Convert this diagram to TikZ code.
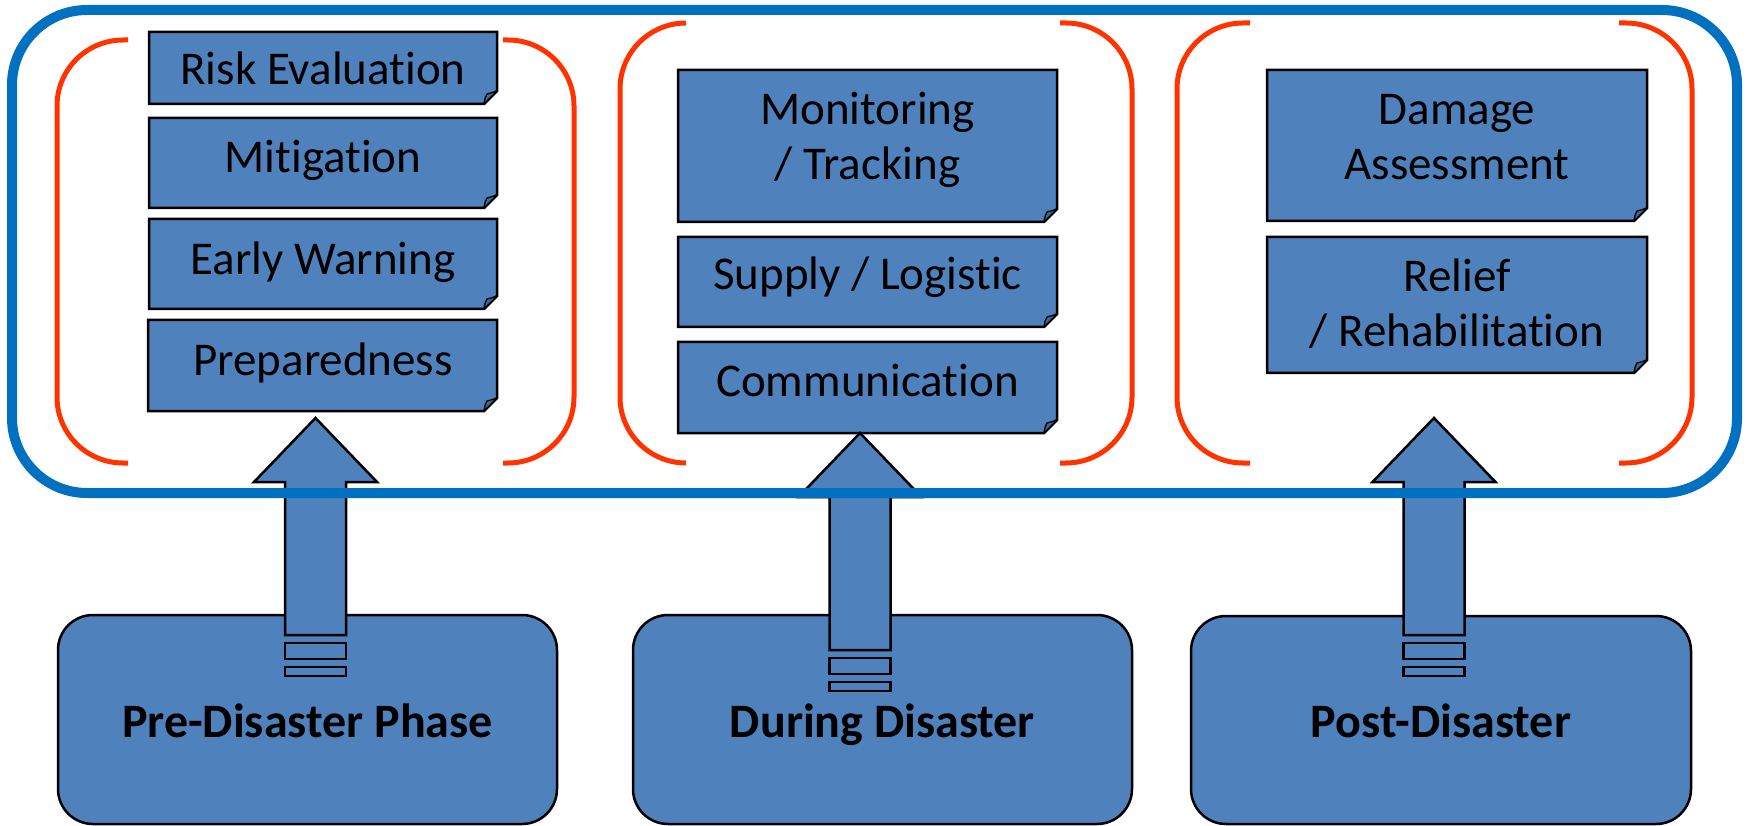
\documentclass[tikz,border=0pt]{standalone}
\usepackage{fontspec}
\setmainfont{Carlito}[Ligatures={NoCommon,NoRequired,NoContextual},RawFeature={-liga;-clig;-dlig;-calt}]
\usetikzlibrary{calc}
\definecolor{fillblue}{HTML}{4F81BD}
\definecolor{frameblue}{HTML}{0070C0}
\definecolor{bracketred}{HTML}{FF3300}
\definecolor{flapblue}{HTML}{3D6798}
\newcommand\nolig{\kern0pt }
\tikzset{
  notebox/.style={fill=fillblue, draw=black, line width=2.5pt, line join=miter},
  flap/.style={fill=flapblue, draw=black, line width=1.3pt, line join=round},
  phasebox/.style={fill=fillblue, draw=black, line width=2.5pt, rounded corners=35pt},
  bracketline/.style={draw=bracketred, line width=5pt, rounded corners=66pt},
  framebox/.style={draw=frameblue, line width=10pt, rounded corners=75pt},
  uparrow/.style={fill=fillblue, draw=black, line width=2.5pt, line join=miter},
  lbl/.style={inner sep=0pt, anchor=base, font=\fontsize{47}{55}\selectfont},
  phaselbl/.style={inner sep=0pt, anchor=base, font=\fontsize{48}{55}\selectfont\bfseries},
}
% folded-corner box: name, x1, y1, x2, y2
\newcommand\foldbox[5]{%
  \path[notebox] (#2,#3) -- (#4,#3) -- (#4,#5-13) -- (#4-13,#5) -- (#2,#5) -- cycle;
  \path[flap] (#4-13,#5) .. controls (#4-12,#5-6) .. (#4-10,#5-10)
     .. controls (#4-6,#5-11) .. (#4,#5-13) -- cycle;
  \coordinate (#1) at ({(#2+#4)/2},{(#3+#5)/2});
}
% bracket pair: leftside, leftend, rightend, rightside, top, bottom
\newcommand\bracketpair[6]{%
  \draw[bracketline] (#2,#5) -- (#1,#5) -- (#1,#6) -- (#2,#6);
  \draw[bracketline] (#3,#5) -- (#4,#5) -- (#4,#6) -- (#3,#6);
}
% striped up arrow relative to tip coordinate
\newcommand\stripearrow[1]{%
  \begin{scope}[shift={(#1)}]
    \path[uparrow] (0,0) -- (61.5,64) -- (30.5,64) -- (30.5,217) -- (-30.5,217)
      -- (-30.5,64) -- (-61.5,64) -- cycle;
    \path[uparrow] (-30.5,225) rectangle (30.5,241);
    \path[uparrow] (-30.5,249) rectangle (30.5,258);
  \end{scope}
}
\begin{document}
\begin{tikzpicture}[x=1pt,y=-1pt]
  \useasboundingbox (0,0) rectangle (1749,826);

  % red brackets
  \bracketpair{57}{128}{503}{574}{40}{463}
  \bracketpair{620}{686}{1060}{1132}{23}{463}
  \bracketpair{1177}{1250}{1619}{1692}{23}{463}

  % pre-disaster column
  \foldbox{risk}{149}{32}{497}{104}
  \foldbox{miti}{149}{118}{497}{208}
  \foldbox{early}{149}{219}{497}{309}
  \foldbox{prep}{148}{320}{497}{411}
  \node[lbl] (tRisk) at (323,85) {Risk Evaluation};
  \node[lbl] (tMiti) at (323,173) {Mit\nolig igat\nolig ion};
  \node[lbl] (tEarly) at (323,275) {Early Warning};
  \node[lbl] (tPrep) at (323,375) {Preparedness};

  % during-disaster column
  \foldbox{moni}{678}{70}{1057}{222}
  \foldbox{supp}{678}{237}{1057}{327}
  \foldbox{comm}{678}{342}{1057}{433}
  \node[lbl] (tMoni) at (867.5,125) {\begin{tabular}[t]{@{}c@{}}Monitoring\\/ Tracking\end{tabular}};
  \node[lbl] (tSupp) at (867.5,290) {Supply / Logist\nolig ic};
  \node[lbl] (tComm) at (867.5,396) {Communicat\nolig ion};

  % post-disaster column
  \foldbox{dama}{1267}{70}{1647}{221}
  \foldbox{reli}{1267}{237}{1647}{373}
  \node[lbl] (tDama) at (1457,125) {\begin{tabular}[t]{@{}c@{}}Damage\\Assessment\end{tabular}};
  \node[lbl] (tReli) at (1457,292) {\begin{tabular}[t]{@{}c@{}}Relief\\/ Rehabilitat\nolig ion\end{tabular}};

  % phase boxes
  \draw[phasebox] (58,615) rectangle (557,824);
  \draw[phasebox] (633,615) rectangle (1132,824);
  \draw[phasebox] (1191,616) rectangle (1691,824);
  \coordinate (pre) at (307.5,719);
  \coordinate (dur) at (882.5,719);
  \coordinate (post) at (1441,719);
  \node[phaselbl] (tPre) at (307.5,737) {Pre-Disaster Phase};
  \node[phaselbl] (tDur) at (882.5,737) {During Disaster};
  \node[phaselbl] (tPost) at (1441,737) {Post-Disaster};

  % arrows
  \coordinate (tipPre) at (315.5,418);
  \coordinate (tipDur) at (860,433);
  \coordinate (tipPost) at (1434,418);
  \stripearrow{tipPre}
  \stripearrow{tipDur}
  \stripearrow{tipPost}

  % outer frame
  \draw[framebox] (12,10) rectangle (1737,493);
\end{tikzpicture}
\end{document}
